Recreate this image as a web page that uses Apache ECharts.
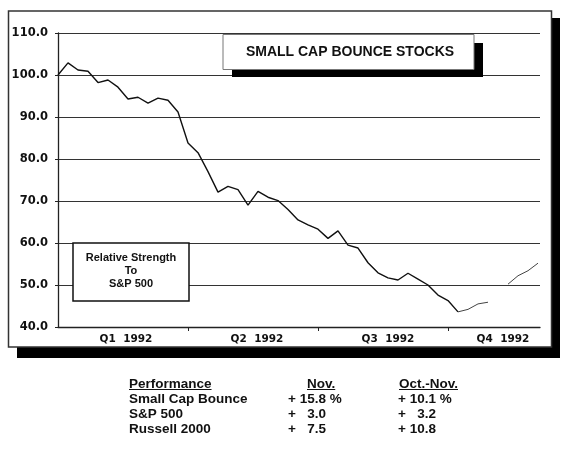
<!DOCTYPE html>
<html>
<head>
<meta charset="utf-8">
<script src="https://cdn.jsdelivr.net/npm/echarts@6/dist/echarts.min.js"></script>
<style>
html,body{margin:0;padding:0;background:#fff;}
#c{width:569px;height:449px;}
</style>
</head>
<body>
<div id="c"></div>
<script>
// ---- data ----
var weeks = [0,1,2,3,4,5,6,7,8,9,10,11,12,13,14,15,16,17,18,19,20,21,22,23,24,25,26,27,28,29,30,31,32,33,34,35,36,37,38,39,40,41,42,43,44,45,46,47,48];
var relStrength = [100.0,102.9,101.2,100.9,98.2,98.8,97.1,94.3,94.7,93.3,94.5,94.0,91.2,83.8,81.5,77.0,72.1,73.5,72.7,69.0,72.3,70.9,70.1,68.0,65.5,64.3,63.3,61.1,62.9,59.5,58.8,55.3,52.9,51.7,51.2,52.8,51.4,50.0,47.6,46.3,43.6,44.2,45.5,45.9,null,50.2,52.2,53.4,55.2];
var lightFromWeek = 40;
var quarterLabels = ['Q1  1992','Q2  1992','Q3  1992','Q4  1992'];
var quarterLabelPos = [6.8, 19.9, 33.0, 44.5];
var quarterBoundaries = [13, 26, 39];
var chartTitle = 'SMALL CAP BOUNCE STOCKS';
var legendLines = ['Relative Strength','To','S&P 500'];
var tableHeaders = ['Performance','Nov.','Oct.-Nov.'];
var tableRowNames = ['Small Cap Bounce','S&P 500','Russell 2000'];
var tableNov = ['+ 15.8 %','+   3.0','+   7.5'];
var tableOctNov = ['+ 10.1 %','+   3.2','+ 10.8'];

var heavy = [], light = [];
for (var i = 0; i < weeks.length; i++) {
  if (weeks[i] <= lightFromWeek) heavy.push([weeks[i], relStrength[i]]);
  if (weeks[i] >= lightFromWeek) light.push([weeks[i], relStrength[i]]);
}

var tf = 'Liberation Sans, Arial, sans-serif';
var tableFont = 'bold 13.5px ' + tf;
var graphics = [
  // outer frame shadow + frame (behind chart)
  {type:'rect', z:-10, shape:{x:17,y:18,width:543,height:340}, style:{fill:'#000'}},
  {type:'rect', z:-9, shape:{x:8.5,y:11,width:543,height:336}, style:{fill:'#fff', stroke:'#333', lineWidth:1.5}},
  // title box
  {type:'rect', z:100, shape:{x:232,y:43,width:251,height:34}, style:{fill:'#000'}},
  {type:'rect', z:101, shape:{x:223,y:34.5,width:251,height:35}, style:{fill:'#fff', stroke:'#777', lineWidth:1}},
  {type:'text', z:102, x:350, y:52.5, style:{text:chartTitle, fill:'#111', font:'bold 14px '+tf, textAlign:'center', textVerticalAlign:'middle'}},
  // legend box
  {type:'rect', z:100, shape:{x:73,y:243,width:116,height:58}, style:{fill:'#fff', stroke:'#111', lineWidth:1.5}},
  {type:'text', z:102, x:131, y:271, style:{text:legendLines.join('\n'), fill:'#111', font:'bold 11px '+tf, textAlign:'center', textVerticalAlign:'middle', lineHeight:13}}
];
// performance table
var colX = [129, 288, 398];
var headX = [129, 307, 399];
var rowY = [384, 399, 414, 429];
for (var h = 0; h < tableHeaders.length; h++) {
  graphics.push({type:'text', z:102, x:headX[h], y:rowY[0], style:{text:tableHeaders[h], fill:'#111', font:tableFont, textAlign:'left', textVerticalAlign:'middle'}});
  var w = echarts.format.getTextRect ? echarts.format.getTextRect(tableHeaders[h], tableFont).width : 60;
  graphics.push({type:'line', z:102, shape:{x1:headX[h], y1:389.5, x2:headX[h]+w, y2:389.5}, style:{stroke:'#111', lineWidth:1}});
}
for (var r = 0; r < tableRowNames.length; r++) {
  var cells = [tableRowNames[r], tableNov[r], tableOctNov[r]];
  for (var c = 0; c < 3; c++) {
    graphics.push({type:'text', z:102, x:colX[c], y:rowY[r+1], style:{text:cells[c], fill:'#111', font:tableFont, textAlign:'left', textVerticalAlign:'middle'}});
  }
}

var chart = echarts.init(document.getElementById('c'), null, {renderer:'canvas'});
chart.setOption({
  backgroundColor:'#fff',
  animation:false,
  grid:{left:58, right:29, top:33, bottom:122, containLabel:false},
  xAxis:{
    type:'value', min:0, max:48.2,
    axisLine:{show:true, lineStyle:{color:'#222', width:1.3}},
    axisTick:{show:true, customValues:quarterBoundaries, length:4, lineStyle:{color:'#222', width:1}},
    axisLabel:{show:true, customValues:quarterLabelPos, margin:7,
      color:'#111', fontFamily:'DejaVu Sans', fontWeight:'bold', fontSize:10.5,
      formatter:function(v){ var k = quarterLabelPos.indexOf(v); return k >= 0 ? quarterLabels[k] : ''; }},
    splitLine:{show:false}
  },
  yAxis:{
    type:'value', min:40, max:110, interval:10,
    axisLine:{show:true, lineStyle:{color:'#222', width:1.3}},
    axisTick:{show:true, length:3, lineStyle:{color:'#222'}},
    axisLabel:{color:'#111', fontFamily:'DejaVu Sans', fontWeight:'bold', fontSize:11.5, margin:10,
      formatter:function(v){ return v.toFixed(1); }},
    splitLine:{show:true, lineStyle:{color:'#333', width:1.2}}
  },
  series:[
    {type:'line', data:heavy, symbol:'none', connectNulls:false,
      lineStyle:{color:'#111', width:1.4}, z:5},
    {type:'line', data:light, symbol:'none', connectNulls:false,
      lineStyle:{color:'#444', width:1}, z:5}
  ],
  graphic:graphics
});
</script>
</body>
</html>
